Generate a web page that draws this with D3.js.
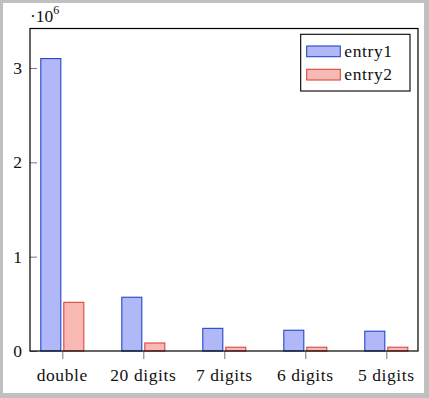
<!DOCTYPE html>
<html><head><meta charset="utf-8">
<script src="https://cdn.jsdelivr.net/npm/d3@7"></script>
<style>body{margin:0;background:#c0c0c0;}svg{display:block;}</style>
</head><body><svg id="c" width="429" height="398"></svg>
<script>
const categories = ["double", "20 digits", "7 digits", "6 digits", "5 digits"];
const seriesNames = ["entry1", "entry2"];
const entry1 = [3100000, 570000, 240000, 220000, 210000];
const entry2 = [516000, 85000, 40000, 40000, 40000];
const yTicks = [0, 1000000, 2000000, 3000000];
const colors = {entry1: {fill: "#b0b8f8", stroke: "#2447c8"}, entry2: {fill: "#f8b8b4", stroke: "#d9473f"}};
const FONT = "Liberation Serif";

const svg = d3.select("#c");
svg.append("rect").attr("x", 3).attr("y", 3).attr("width", 421).attr("height", 390).attr("fill", "#fff");

const L = 30, R = 418, T = 28.5, B = 351;
const x = d3.scalePoint().domain(categories).range([62.3, 386.3]);
const sub = d3.scaleBand().domain(seriesNames).range([-21.5, 21.5]).paddingInner(3 / 23);
const y = d3.scaleLinear().domain([0, 3000000 * (B - T) / (B - 68)]).range([B, T]);

const data = categories.map((c, i) => ({cat: c, entry1: entry1[i], entry2: entry2[i]}));

// bars
const g = svg.append("g");
data.forEach(d => {
  seriesNames.forEach(s => {
    g.append("rect")
      .attr("x", x(d.cat) + sub(s))
      .attr("y", y(d[s]))
      .attr("width", sub.bandwidth())
      .attr("height", y(0) - y(d[s]))
      .attr("fill", colors[s].fill)
      .attr("stroke", colors[s].stroke)
      .attr("stroke-width", 1.1);
  });
});

// y axis ticks (inside)
const yAxis = d3.axisRight(y).tickValues(yTicks).tickSize(7).tickFormat("");
const ya = svg.append("g").attr("transform", `translate(${L},0)`).call(yAxis);
ya.select(".domain").remove();
ya.selectAll("line").attr("stroke", "#666").attr("stroke-width", 0.9);
svg.append("g").selectAll("text").data(yTicks).join("text")
  .attr("x", 22).attr("y", d => y(d) + 6).attr("text-anchor", "end")
  .style("font-family", FONT).attr("fill", "#111")
  .attr("font-size", 17.5).text(d => d / 1e6);

// x axis ticks (outside)
const xAxis = d3.axisBottom(x).tickSize(8).tickFormat("");
const xa = svg.append("g").attr("transform", `translate(0,${B})`).call(xAxis);
xa.select(".domain").remove();
xa.selectAll("line").attr("stroke", "#666").attr("stroke-width", 0.9);
svg.append("g").selectAll("text").data(categories).join("text")
  .attr("x", d => x(d)).attr("y", 381).attr("text-anchor", "middle")
  .style("font-family", FONT).attr("fill", "#111")
  .attr("font-size", 17.5).attr("letter-spacing", 0.6).text(d => d);

// frame
svg.append("rect").attr("x", L).attr("y", T).attr("width", R - L).attr("height", B - T)
  .attr("fill", "none").attr("stroke", "#000").attr("stroke-width", 1.2);

// exponent
const ex = svg.append("text").attr("x", 30).attr("y", 22).attr("font-size", 17.5)
  .style("font-family", FONT).attr("fill", "#111");
ex.append("tspan").text("·10");
ex.append("tspan").attr("font-size", 12).attr("dy", -8).text("6");

// legend
const lg = svg.append("g");
lg.append("rect").attr("x", 300.7).attr("y", 34.3).attr("width", 109.3).attr("height", 56.7)
  .attr("fill", "#fff").attr("stroke", "#000").attr("stroke-width", 1.1);
seriesNames.forEach((s, i) => {
  const yy = 46 + i * 23.3;
  lg.append("rect").attr("x", 306.7).attr("y", yy).attr("width", 33.6).attr("height", 10.7)
    .attr("fill", colors[s].fill).attr("stroke", colors[s].stroke).attr("stroke-width", 1.1);
  lg.append("text").attr("x", 344.3).attr("y", yy + 10.5).attr("font-size", 17.5)
    .style("font-family", FONT).attr("fill", "#111")
    .attr("letter-spacing", 0.6).text(s);
});
</script></body></html>
